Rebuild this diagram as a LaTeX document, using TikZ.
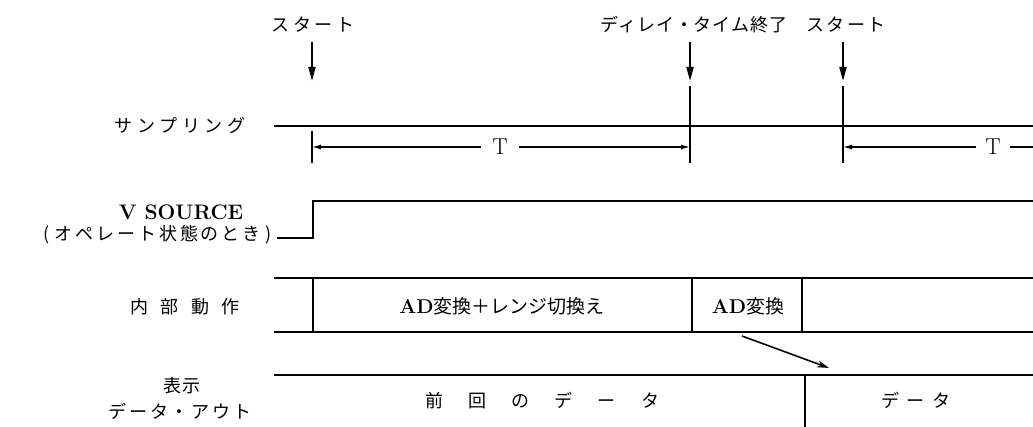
\documentclass[tikz,border=0pt]{standalone}
\usepackage{fontspec}
\newfontfamily\jp{Noto Sans CJK JP}
\usetikzlibrary{arrows.meta}
\tikzset{
  sig/.style={line width=2.4pt, line cap=rect},
  tick/.style={line width=1.5pt},
  startarrow/.style={line width=1.8pt, -{Triangle[length=14pt,width=7pt]}},
  tarrow/.style={line width=1.3pt, -{Latex[length=9pt,width=5pt]}},
  tline/.style={line width=1.3pt},
  diagarrow/.style={line width=1.6pt, -{Stealth[length=12pt,width=7pt]}},
  jp/.style={inner sep=0pt, font=\jp\fontsize{18pt}{20pt}\selectfont\addfontfeatures{LetterSpace=#1}},
  jp/.default=0,
  lat/.style={inner sep=0pt, font=\bfseries\fontsize{21pt}{24pt}\selectfont},
}
\begin{document}
\begin{tikzpicture}[x=1pt,y=-1pt]
\useasboundingbox (0,0) rectangle (1033,427);
\fill[white] (0,0) rectangle (1033,427);

% --- top event labels and arrows
\node[jp=20] (start1) at (313,25) {スタート};
\node[jp=5] (delay) at (694,25) {ディレイ・タイム終了};
\node[jp=12] (start2) at (846,25) {スタート};
\coordinate (a1s) at (312,42); \coordinate (a1e) at (312,81);
\coordinate (a2s) at (690,42); \coordinate (a2e) at (690,81);
\coordinate (a3s) at (843,42); \coordinate (a3e) at (843,81);
\draw[startarrow] (a1s) -- (a1e);
\draw[startarrow] (a2s) -- (a2e);
\draw[startarrow] (a3s) -- (a3e);

% --- left labels
\node[jp=26] (lsamp) at (180,126) {サンプリング};
\node[lat] (lvs) at (181,212) {V SOURCE};
\node[jp=16, anchor=east] (lop) at (272,235) {(\hspace{5pt}オペレート状態のとき\hspace{5pt})};
\node[jp=67] (lint) at (185,307) {内部動作};
\node[jp=4] (ldisp) at (182,386) {表示};
\node[jp=16] (lout) at (180,411) {データ・アウト};

% --- sampling
\coordinate (s0) at (275,126); \coordinate (s1) at (1033,126);
\draw[sig] (s0) -- (s1);
\coordinate (t1a) at (312,131); \coordinate (t1b) at (312,163);
\coordinate (t2a) at (690,86);  \coordinate (t2b) at (690,163);
\coordinate (t3a) at (843,86);  \coordinate (t3b) at (843,163);
\draw[tick] (t1a) -- (t1b);
\draw[tick] (t2a) -- (t2b);
\draw[tick] (t3a) -- (t3b);
\coordinate (p1) at (312,147); \coordinate (p2) at (690,147);
\coordinate (p3) at (843,147); \coordinate (p4) at (1033,147);
\node[lat, font=\mdseries\fontsize{23pt}{24pt}\selectfont, inner xsep=11pt] (T1) at (500,147) {T};
\node[lat, font=\mdseries\fontsize{23pt}{24pt}\selectfont, inner xsep=9pt] (T2) at (993,147) {T};
\draw[tarrow] (T1) -- (p1);
\draw[tarrow] (T1) -- (p2);
\draw[tarrow] (T2) -- (p3);
\draw[tline] (T2) -- (p4);

% --- V source
\coordinate (v0) at (277,238); \coordinate (v1) at (313,238);
\coordinate (v2) at (313,201); \coordinate (v3) at (1033,201);
\draw[sig, line cap=butt] (v0) -- (v1) -- (v2) -- (v3);

% --- internal operation
\coordinate (i0t) at (275,278); \coordinate (i1t) at (1033,278);
\coordinate (i0b) at (275,332); \coordinate (i1b) at (1033,332);
\draw[sig] (i0t) -- (i1t);
\draw[sig] (i0b) -- (i1b);
\coordinate (ia) at (313,278); \coordinate (iab) at (313,332);
\coordinate (ib) at (692,278); \coordinate (ibb) at (692,332);
\coordinate (ic) at (802,278); \coordinate (icb) at (802,332);
\draw[sig] (ia) -- (iab);
\draw[sig] (ib) -- (ibb);
\draw[sig] (ic) -- (icb);
\node[inner sep=0pt] (box1) at (502,306) {\bfseries\fontsize{20pt}{24pt}\selectfont AD{\jp\mdseries\fontsize{19pt}{22pt}\selectfont 変換＋レンジ切換え}};
\node[inner sep=0pt] (box2) at (748,306) {\bfseries\fontsize{20pt}{24pt}\selectfont AD{\jp\mdseries\fontsize{19pt}{22pt}\selectfont 変換}};

% --- transfer arrow
\coordinate (dA) at (742,336); \coordinate (dB) at (829,368);
\draw[diagarrow] (dA) -- (dB);

% --- display / data out
\coordinate (d0) at (275,375); \coordinate (d1) at (1033,375);
\draw[sig] (d0) -- (d1);
\coordinate (dv0) at (805,375); \coordinate (dv1) at (805,427);
\draw[sig] (dv0) -- (dv1);
\node[jp=140] (prev) at (542,401) {前回のデータ};
\node[jp=40] (newd) at (916,400) {データ};
\end{tikzpicture}
\end{document}
